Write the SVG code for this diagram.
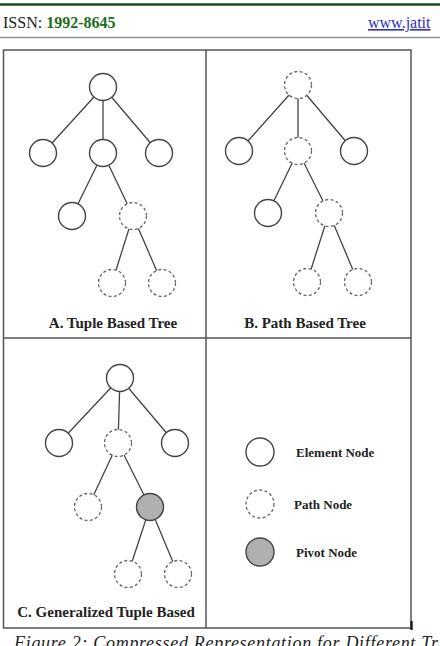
<svg xmlns="http://www.w3.org/2000/svg" width="440" height="646" viewBox="0 0 440 646">
<style>
.el{fill:#fff;stroke:#444;stroke-width:1.4}
.pa{fill:#fff;stroke:#666;stroke-width:1.3;stroke-dasharray:3 2.4}
.pv{fill:#b0b0b0;stroke:#444;stroke-width:1.4}
.edge{stroke:#444;stroke-width:1.3;fill:none}
.frame{stroke:#555;stroke-width:1.5;fill:none}
.lbl{font-family:"Liberation Serif",serif;font-weight:bold;font-size:15px;fill:#222}
.leg{font-family:"Liberation Serif",serif;font-weight:bold;font-size:13px;fill:#222}
</style>
<rect width="440" height="646" fill="#fff"/>
<g id="header">
<line x1="0" y1="4.5" x2="440" y2="4.5" stroke="#1e4a1e" stroke-width="2.6"/>
<text x="3" y="28" font-family="'Liberation Serif',serif" font-size="16" fill="#222">ISSN: <tspan font-weight="bold" fill="#1a6e1a">1992-8645</tspan></text>
<text x="368" y="28" font-family="'Liberation Serif',serif" font-size="16" fill="#3030c8" text-decoration="underline">www.jatit</text>
<line x1="0" y1="37.5" x2="440" y2="37.5" stroke="#8a9a8a" stroke-width="1.5"/>
</g>
<g id="frame">
<rect class="frame" x="3.5" y="50" width="407.5" height="578"/>
<line class="frame" x1="206" y1="50" x2="206" y2="628"/>
<line class="frame" x1="3.5" y1="338" x2="411" y2="338"/>
<line x1="411.5" y1="621" x2="411.5" y2="630" stroke="#222" stroke-width="2.5"/>
</g>
<g id="connectors">
<path class="edge" d="M103 87L43 153M103 87L103 153M103 87L159 153M103 153L72 216M103 153L133 216M133 216L112 283M133 216L162 283"/>
<path class="edge" d="M298 85L239 151M298 85L298 151M298 85L354 151M298 151L268 213M298 151L329 213M329 213L307 282M329 213L358 282"/>
<path class="edge" d="M120 378L59 443M120 378L118 443M120 378L175 443M118 443L88 507M118 443L150 507M150 507L128 574M150 507L178 574"/>
</g>
<g id="treeA">
<circle id="a1" class="el" cx="103" cy="87" r="13.5"/>
<circle id="a2" class="el" cx="43" cy="153" r="13.5"/>
<circle id="a3" class="el" cx="103" cy="153" r="13.5"/>
<circle id="a4" class="el" cx="159" cy="153" r="13.5"/>
<circle id="a5" class="el" cx="72" cy="216" r="13.5"/>
<circle id="a6" class="pa" cx="133" cy="216" r="13.5"/>
<circle id="a7" class="pa" cx="112" cy="283" r="13.5"/>
<circle id="a8" class="pa" cx="162" cy="283" r="13.5"/>
<text class="lbl" x="113" y="328" text-anchor="middle">A. Tuple Based Tree</text>
</g>
<g id="treeB">
<circle id="b1" class="pa" cx="298" cy="85" r="13.5"/>
<circle id="b2" class="el" cx="239" cy="151" r="13.5"/>
<circle id="b3" class="pa" cx="298" cy="151" r="13.5"/>
<circle id="b4" class="el" cx="354" cy="151" r="13.5"/>
<circle id="b5" class="el" cx="268" cy="213" r="13.5"/>
<circle id="b6" class="pa" cx="329" cy="213" r="13.5"/>
<circle id="b7" class="pa" cx="307" cy="282" r="13.5"/>
<circle id="b8" class="pa" cx="358" cy="282" r="13.5"/>
<text class="lbl" x="305" y="328" text-anchor="middle">B. Path Based Tree</text>
</g>
<g id="treeC">
<circle id="c1" class="el" cx="120" cy="378" r="13.5"/>
<circle id="c2" class="el" cx="59" cy="443" r="13.5"/>
<circle id="c3" class="pa" cx="118" cy="443" r="13.5"/>
<circle id="c4" class="el" cx="175" cy="443" r="13.5"/>
<circle id="c5" class="pa" cx="88" cy="507" r="13.5"/>
<circle id="c6" class="pv" cx="150" cy="507" r="13.5"/>
<circle id="c7" class="pa" cx="128" cy="574" r="13.5"/>
<circle id="c8" class="pa" cx="178" cy="574" r="13.5"/>
<text class="lbl" x="106" y="617" text-anchor="middle">C. Generalized Tuple Based</text>
</g>
<g id="legend">
<circle class="el" cx="260" cy="452" r="14"/>
<text class="leg" x="296" y="457">Element Node</text>
<circle class="pa" cx="260" cy="504" r="14"/>
<text class="leg" x="294" y="509">Path Node</text>
<circle class="pv" cx="260" cy="552" r="14"/>
<text class="leg" x="296" y="557">Pivot Node</text>
</g>
<g id="caption">
<text x="14" y="649" font-family="'Liberation Serif',serif" font-style="italic" font-size="18" fill="#222" textLength="424" lengthAdjust="spacing">Figure 2: Compressed Representation for Different Tr</text>
</g>
</svg>
